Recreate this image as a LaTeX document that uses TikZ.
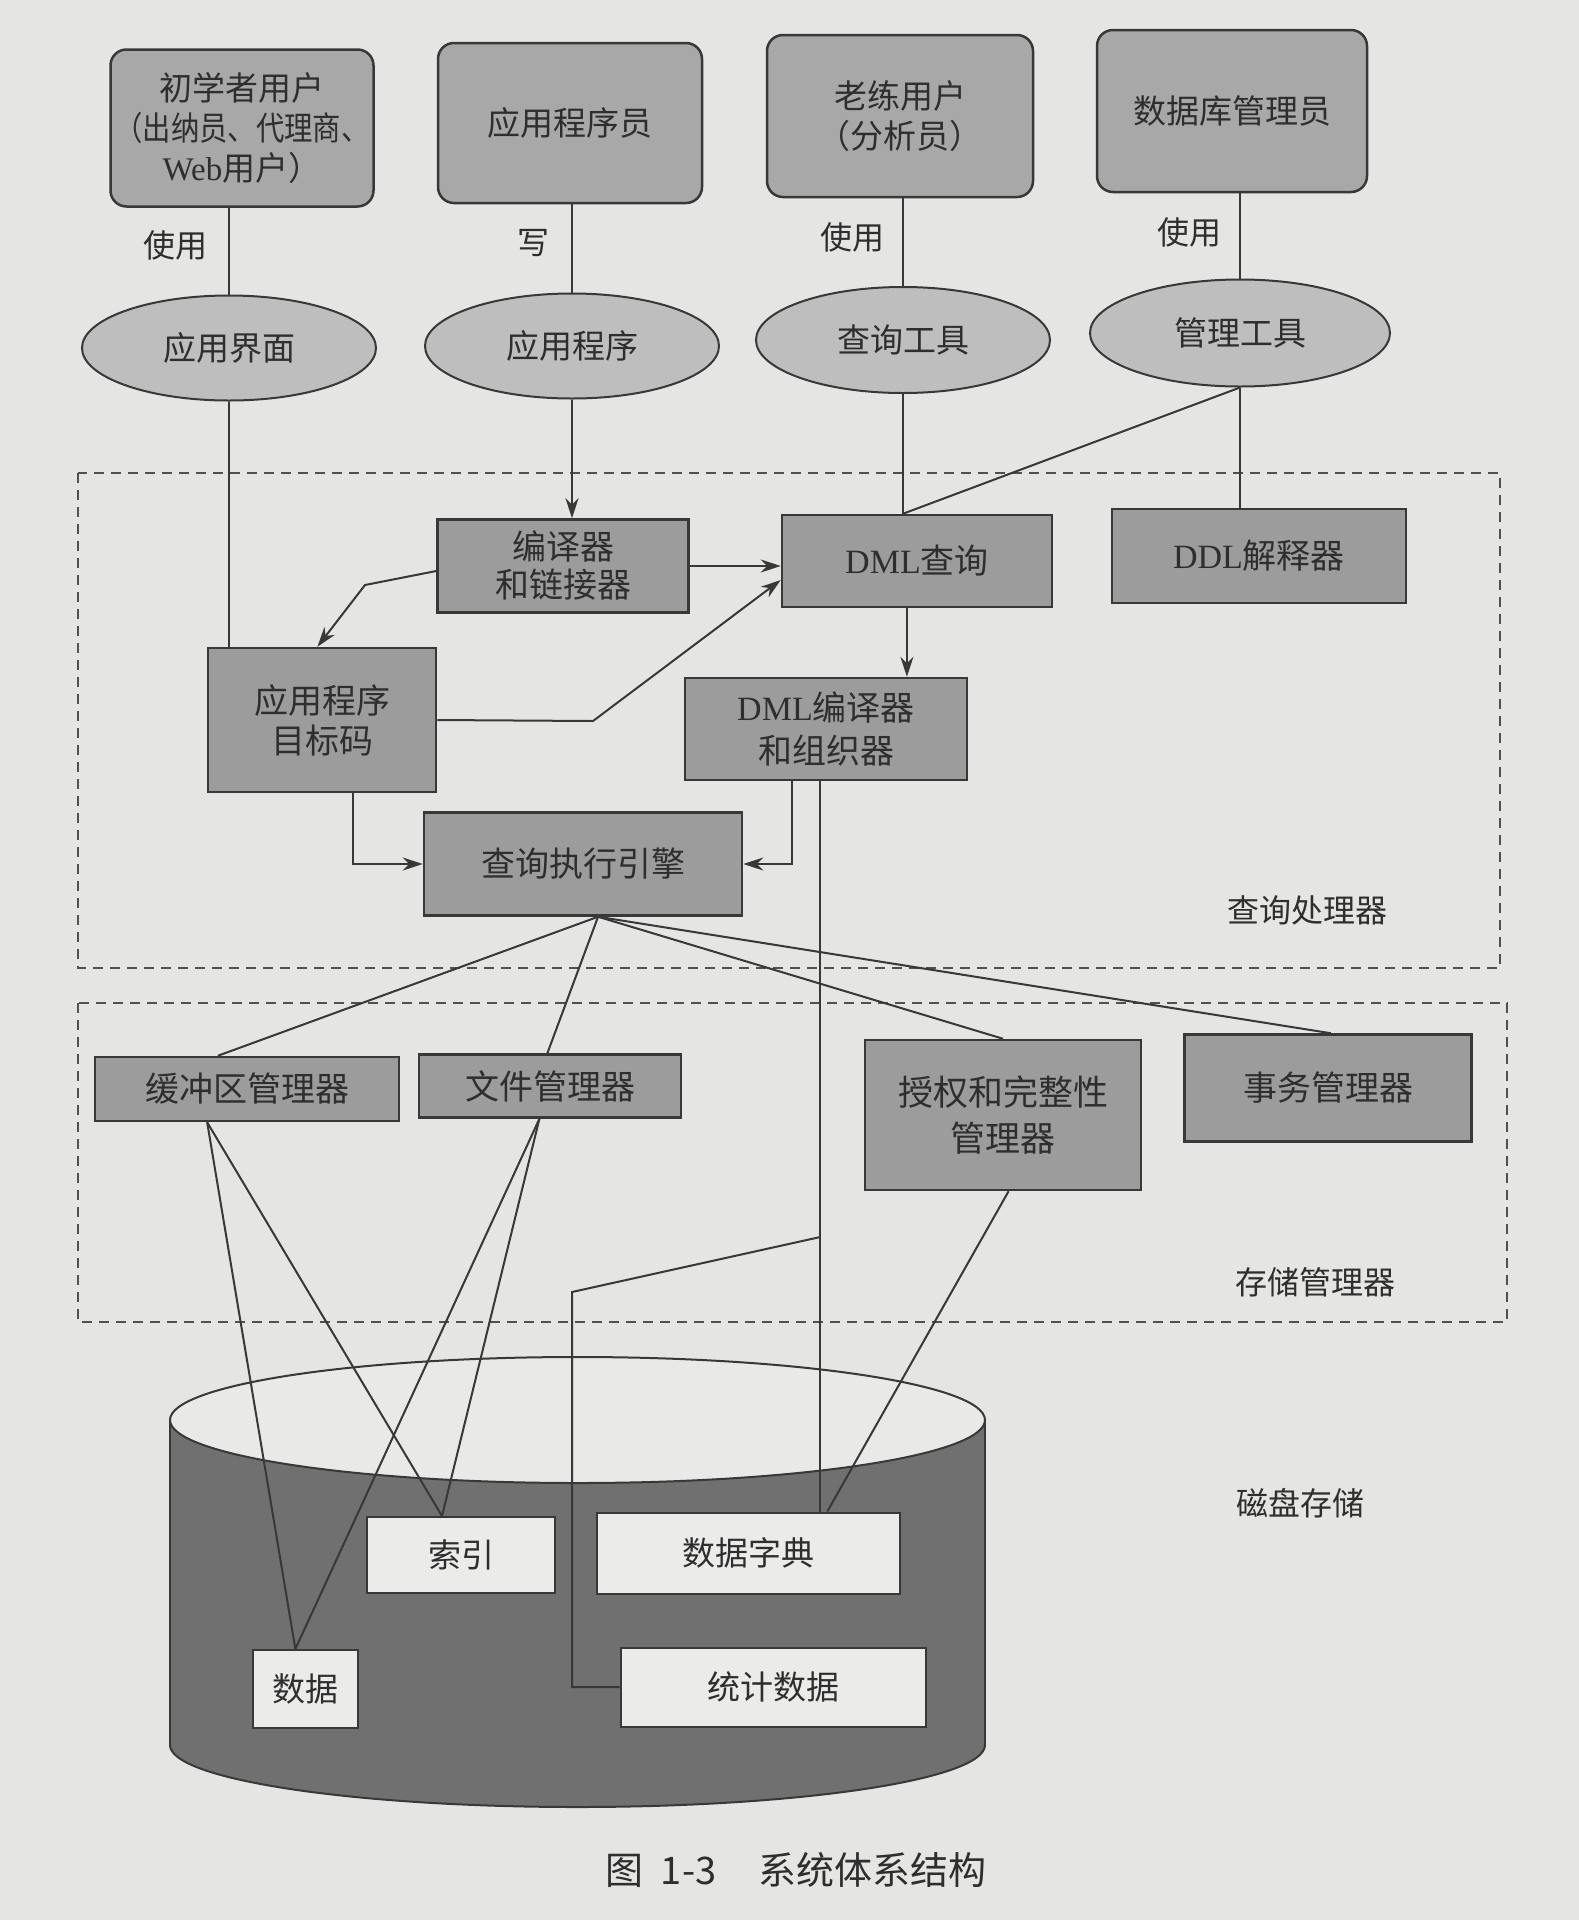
\documentclass[tikz,border=0pt]{standalone}
\usepackage{fontspec}
\usepackage{graphicx}
\setmainfont{Noto Sans CJK SC}
\newfontfamily\lat{Liberation Serif}
\usetikzlibrary{arrows.meta,shapes.geometric,calc}
\definecolor{bgC}{HTML}{E5E5E3}
\definecolor{boxA}{HTML}{A8A8A8}
\definecolor{ellC}{HTML}{BEBEBE}
\definecolor{boxB}{HTML}{9C9C9C}
\definecolor{cylC}{HTML}{707070}
\definecolor{topC}{HTML}{E9E9E8}
\definecolor{dataC}{HTML}{EBEBEA}
\definecolor{lineC}{HTML}{383838}
\definecolor{txtC}{HTML}{2E2E2E}
\definecolor{dashC}{HTML}{505050}
\tikzset{
  ubox/.style={draw=lineC, line width=2.5pt, fill=boxA, rounded corners=16pt, inner sep=0pt, align=center, text=txtC, font=\fontsize{33}{40}\selectfont},
  ell/.style={ellipse, draw=lineC, line width=2pt, fill=ellC, inner sep=0pt, text=txtC, font=\fontsize{33}{40}\selectfont},
  pbox/.style={draw=lineC, line width=2.5pt, fill=boxB, inner sep=0pt, align=center, text=txtC, font=\fontsize{34}{40}\selectfont},
  dbox/.style={draw=lineC, line width=2pt, fill=dataC, inner sep=0pt, text=txtC, font=\fontsize{33}{40}\selectfont},
  lbl/.style={text=txtC, inner sep=0pt, font=\fontsize{32}{38}\selectfont},
  conn/.style={draw=lineC, line width=2pt},
  arr/.style={conn, -{Stealth[length=20pt,width=13pt]}},
  dashbox/.style={draw=dashC, line width=2pt, dash pattern=on 10pt off 7pt},
}
\begin{document}
\begin{tikzpicture}[x=1pt,y=-1pt]
\useasboundingbox (0,0) rectangle (1579,1920);
\fill[bgC] (0,0) rectangle (1579,1920);

% dashed containers
\draw[dashbox] (78,473) rectangle (1500,968);
\draw[dashbox] (78,1003) rectangle (1507,1322);
\node[lbl] (lqp) at (1307,910) {查询处理器};
\node[lbl] (lsm) at (1315,1282) {存储管理器};

% disk cylinder
\fill[cylC] (170,1420) rectangle (985,1745);
\fill[cylC] (577.5,1745) ellipse (407.5 and 62);
\begin{scope}
  \clip (100,1745) rectangle (1100,1860);
  \draw[lineC, line width=2pt] (577.5,1745) ellipse (407.5 and 62);
\end{scope}
\draw[lineC, line width=2pt] (170,1420) -- (170,1745);
\draw[lineC, line width=2pt] (985,1420) -- (985,1745);
\filldraw[fill=topC, draw=lineC, line width=2pt] (577.5,1420) ellipse (407.5 and 63);
\node[lbl] (ldisk) at (1300,1503) {磁盘存储};

% top users
\node[ubox, minimum width=263pt, minimum height=157pt] (u1) at (242,128)
  {初学者用户\\\scalebox{0.86}[1]{（出纳员、代理商、}\\{\lat Web}用户）};
\node[ubox, minimum width=264pt, minimum height=160pt] (u2) at (570,123) {应用程序员};
\node[ubox, minimum width=266pt, minimum height=162pt] (u3) at (900,116) {老练用户\\（分析员）};
\node[ubox, minimum width=270pt, minimum height=162pt] (u4) at (1232,111) {数据库管理员};

% ellipses
\node[ell, minimum width=294pt, minimum height=105pt] (e1) at (229,348) {应用界面};
\node[ell, minimum width=294pt, minimum height=105pt] (e2) at (572,346) {应用程序};
\node[ell, minimum width=294pt, minimum height=106pt] (e3) at (903,340) {查询工具};
\node[ell, minimum width=300pt, minimum height=107pt] (e4) at (1240,333) {管理工具};

\node[lbl] (t1) at (175,245) {使用};
\node[lbl] (t2) at (533,243) {写};
\node[lbl] (t3) at (852,237) {使用};
\node[lbl] (t4) at (1189,232) {使用};

% query processor boxes
\node[pbox, minimum width=251pt, minimum height=93pt, font=\fontsize{34}{38}\selectfont] (comp) at (563,566) {编译器\\和链接器};
\node[pbox, minimum width=270pt, minimum height=92pt] (dmlq) at (917,561) {{\lat DML}查询};
\node[pbox, minimum width=294pt, minimum height=94pt] (ddl) at (1259,556) {{\lat DDL}解释器};
\node[pbox, minimum width=228pt, minimum height=144pt] (obj) at (322,720) {应用程序\\目标码};
\node[pbox, minimum width=282pt, minimum height=102pt, font=\fontsize{34}{43}\selectfont] (dmlc) at (826,729) {{\lat DML}编译器\\和组织器};
\node[pbox, minimum width=318pt, minimum height=103pt] (eng) at (583,864) {查询执行引擎};

% storage manager boxes
\node[pbox, minimum width=304pt, minimum height=64pt] (buf) at (247,1089) {缓冲区管理器};
\node[pbox, minimum width=262pt, minimum height=63pt] (file) at (550,1086) {文件管理器};
\node[pbox, minimum width=276pt, minimum height=150pt, font=\fontsize{35}{46}\selectfont] (auth) at (1003,1115) {授权和完整性\\管理器};
\node[pbox, minimum width=287pt, minimum height=107pt] (trans) at (1328,1088) {事务管理器};

% disk contents
\node[dbox, minimum width=188pt, minimum height=76pt] (idx) at (461,1555) {索引};
\node[dbox, minimum width=303pt, minimum height=81pt] (dict) at (748,1553) {数据字典};
\node[dbox, minimum width=105pt, minimum height=78pt] (data) at (305,1689) {数据};
\node[dbox, minimum width=305pt, minimum height=79pt] (stat) at (773,1687) {统计数据};

% caption
\node[text=txtC, inner sep=0pt, font=\fontsize{38}{44}\selectfont] (cap) at (796,1870) {图\hspace{0.45em}1-3\hspace{1.1em}系统体系结构};

% user -> tool connectors
\draw[conn] (e1.north) -- (e1.north |- u1.south);
\draw[conn] (e2.north) -- (e2.north |- u2.south);
\draw[conn] (e3.north) -- (e3.north |- u3.south);
\draw[conn] (e4.north) -- (e4.north |- u4.south);

% tools -> query processor
\draw[conn] (e1.south) -- (e1.south |- obj.north);
\draw[arr] (e2.south) -- (e2.south |- comp.north);
\coordinate (dqtop) at (e3.south |- dmlq.north);
\draw[conn] (e3.south) -- (dqtop);
\draw[conn] (e4.south) -- (dqtop);
\draw[conn] (e4.south) -- (e4.south |- ddl.north);

% inside query processor
\draw[arr] (comp.east) -- (comp.east -| dmlq.west);
\coordinate (cb) at (365,585);
\draw[arr] ($(comp.west)+(0,5)$) -- (cb) -- ($(obj.north west)!0.48!(obj.north east)$);
\coordinate (ob2) at (593,721);
\draw[arr] (obj.east) -- (ob2) -- ($(dmlq.west)+(0,19)$);
\coordinate (dq) at ($(dmlq.south west)!0.463!(dmlq.south east)$);
\draw[arr] (dq) -- (dq |- dmlc.north);
\coordinate (ob) at ($(obj.south west)!0.636!(obj.south east)$);
\draw[arr] (ob) -- (ob |- eng.west) -- (eng.west);
\coordinate (dB) at ($(dmlc.south west)!0.38!(dmlc.south east)$);
\draw[arr] (dB) -- (dB |- eng.east) -- (eng.east);

% engine fan-out
\coordinate (apex) at ($(eng.south west)!0.547!(eng.south east)$);
\draw[conn] (apex) -- ($(buf.north west)!0.405!(buf.north east)$);
\draw[conn] (apex) -- ($(file.north west)!0.49!(file.north east)$);
\draw[conn] (apex) -- (auth.north);
\draw[conn] (apex) -- ($(trans.north west)!0.51!(trans.north east)$);

% storage -> disk
\coordinate (bb) at ($(buf.south west)!0.37!(buf.south east)$);
\coordinate (fb) at ($(file.south west)!0.46!(file.south east)$);
\coordinate (dt) at ($(data.north west)!0.41!(data.north east)$);
\coordinate (it) at ($(idx.north west)!0.40!(idx.north east)$);
\draw[conn] (bb) -- (dt);
\draw[conn] (bb) -- (it);
\draw[conn] (fb) -- (dt);
\draw[conn] (fb) -- (it);
\draw[conn] ($(auth.south west)!0.52!(auth.south east)$) -- ($(dict.north west)!0.76!(dict.north east)$);

\coordinate (dA) at ($(dmlc.south west)!0.48!(dmlc.south east)$);
\draw[conn] (dA) -- (dA |- dict.north);
\coordinate (br) at (dA |- 0,1237);
\coordinate (bk) at (572,1292);
\draw[conn] (br) -- (bk) -- (bk |- stat.west) -- (stat.west);
\end{tikzpicture}
\end{document}
